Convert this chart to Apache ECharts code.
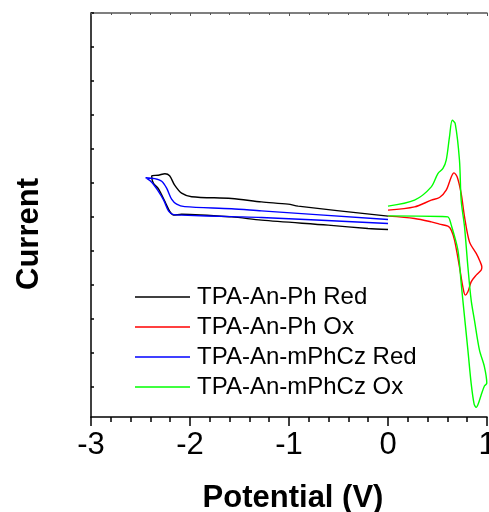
<!DOCTYPE html>
<html>
<head>
<meta charset="utf-8">
<script src="https://cdn.jsdelivr.net/npm/echarts@6/dist/echarts.min.js"></script>
<style>
  html, body { margin: 0; padding: 0; background: #fff; }
  #main { width: 489px; height: 512px; }
</style>
</head>
<body>
<div id="main"></div>
<script>
// ---------- data (potential V, current a.u.) ----------
var seriesNames = ['TPA-An-Ph Red', 'TPA-An-Ph Ox', 'TPA-An-mPhCz Red', 'TPA-An-mPhCz Ox'];
var seriesColors = ['#000000', '#ff0000', '#0000ff', '#00ff00'];

// TPA-An-Ph, reduction scan
var phRed = [
  [0, 6.021], [-0.908, 6.315], [-1.009, 6.374], [-1.278, 6.441], [-1.580, 6.541],
  [-1.984, 6.594], [-2.085, 6.697], [-2.155, 6.932], [-2.206, 7.212], [-2.253, 7.271],
  [-2.320, 7.226], [-2.387, 7.206], [-2.370, 6.991], [-2.320, 6.829], [-2.253, 6.447],
  [-2.203, 6.153], [-2.165, 6.050], [-2.085, 6.079], [-1.580, 6.000], [-1.278, 5.903],
  [-0.605, 5.756], [-0.202, 5.659], [0, 5.629]
];
// TPA-An-Ph, oxidation scan
var phOx = [
  [0, 6.197], [0.268, 6.294], [0.437, 6.491], [0.520, 6.571], [0.588, 6.785],
  [0.639, 7.176], [0.666, 7.294], [0.699, 7.176], [0.739, 6.688], [0.773, 6.000],
  [0.823, 5.265], [0.891, 4.924], [0.924, 4.726], [0.948, 4.521], [0.941, 4.432],
  [0.891, 4.285], [0.840, 4.088], [0.807, 3.794], [0.780, 3.697], [0.756, 3.941],
  [0.722, 4.529], [0.672, 5.315], [0.639, 5.609], [0.605, 5.726], [0.520, 5.785],
  [0.437, 5.853], [0.268, 5.953], [0, 6.021]
];
// TPA-An-mPhCz, reduction scan
var czRed = [
  [0, 5.924], [-1.278, 6.176], [-1.580, 6.241], [-2.054, 6.300], [-2.135, 6.374],
  [-2.186, 6.521], [-2.236, 6.844], [-2.286, 7.050], [-2.357, 7.124], [-2.448, 7.153],
  [-2.387, 7.021], [-2.327, 6.785], [-2.266, 6.491], [-2.216, 6.168], [-2.165, 6.065],
  [-2.085, 6.050], [-1.580, 6.006], [-1.278, 5.982], [0, 5.806]
];
// TPA-An-mPhCz, oxidation scan
var czOx = [
  [0, 6.315], [0.268, 6.491], [0.437, 6.882], [0.504, 7.276], [0.555, 7.424],
  [0.588, 7.668], [0.621, 8.353], [0.649, 8.844], [0.679, 8.747], [0.722, 7.668],
  [0.739, 6.491], [0.773, 5.706], [0.807, 4.529], [0.840, 3.550], [0.873, 2.962],
  [0.924, 2.079], [0.974, 1.588], [0.998, 1.100], [0.974, 1.021], [0.941, 0.756],
  [0.911, 0.491], [0.891, 0.394], [0.870, 0.491], [0.840, 1.100], [0.807, 2.079],
  [0.756, 3.550], [0.739, 4.050], [0.706, 5.021], [0.639, 5.756], [0.605, 6.000],
  [0.538, 6.012], [0, 6.029]
];

var xTicks = [-3, -2, -1, 0, 1];
var yTicks = [1, 2, 3, 4, 5, 6, 7, 8, 9, 10, 11, 12];

var seriesData = [phRed, phOx, czRed, czOx];

var chart = echarts.init(document.getElementById('main'));

var fontFamily = '"Liberation Sans", Arial, sans-serif';

var option = {
    animation: false,
    backgroundColor: '#fff',
    grid: {
        left: 91,
        right: 2,
        top: 13,
        bottom: 95,
        containLabel: false,
        outerBoundsMode: 'none'
    },
    legend: {
        orient: 'vertical',
        left: 130,
        top: 280,
        icon: 'rect',
        itemWidth: 55,
        itemHeight: 1.5,
        itemGap: 6,
        data: seriesNames,
        textStyle: {
            fontFamily: fontFamily,
            fontSize: 24,
            lineHeight: 24,
            color: '#000',
            padding: [0, 0, 0, 2]
        }
    },
    xAxis: [{
        type: 'value',
        min: xTicks[0],
        max: xTicks[xTicks.length - 1],
        interval: 1,
        name: 'Potential (V)',
        nameLocation: 'middle',
        nameGap: 66,
        nameTextStyle: {
            fontFamily: fontFamily,
            fontSize: 31,
            fontWeight: 'bold',
            color: '#000',
            padding: [0, 0, 0, 8]
        },
        axisLine: { show: true, lineStyle: { color: '#000', width: 1.5 } },
        axisTick: { show: true, inside: false, length: 9, lineStyle: { color: '#000', width: 1.5 } },
        minorTick: { show: true, splitNumber: 5, length: 5, lineStyle: { color: '#000', width: 1.5 } },
        axisLabel: {
            margin: 13,
            fontFamily: fontFamily,
            fontSize: 31,
            color: '#000'
        },
        splitLine: { show: false }
    }, {
        // top frame line
        type: 'value',
        position: 'top',
        min: xTicks[0],
        max: xTicks[xTicks.length - 1],
        interval: 1,
        axisLine: { show: true, lineStyle: { color: '#555', width: 1.5 } },
        axisTick: { show: true, inside: true, length: 3, lineStyle: { color: '#555' } },
        minorTick: { show: true, splitNumber: 5, length: 2, lineStyle: { color: '#555' } },
        axisLabel: { show: false },
        splitLine: { show: false }
    }],
    yAxis: {
        type: 'value',
        min: 0.11,
        max: 12,
        name: 'Current',
        nameLocation: 'middle',
        nameGap: 46,
        nameTextStyle: {
            fontFamily: fontFamily,
            fontSize: 31,
            fontWeight: 'bold',
            color: '#000',
            padding: [0, 38, 0, 0]
        },
        axisLine: { show: true, onZero: false, lineStyle: { color: '#000', width: 1.5 } },
        axisTick: {
            show: true,
            inside: true,
            length: 3,
            customValues: yTicks,
            lineStyle: { color: '#000', width: 1.5 }
        },
        axisLabel: { show: false },
        splitLine: { show: false }
    },
    series: seriesData.map(function (d, i) {
        return {
            name: seriesNames[i],
            type: 'line',
            data: d,
            showSymbol: false,
            symbol: 'none',
            smooth: 0.3,
            clip: false,
            color: seriesColors[i],
            lineStyle: { color: seriesColors[i], width: 1.4 }
        };
    })
};

chart.setOption(option);
</script>
</body>
</html>
